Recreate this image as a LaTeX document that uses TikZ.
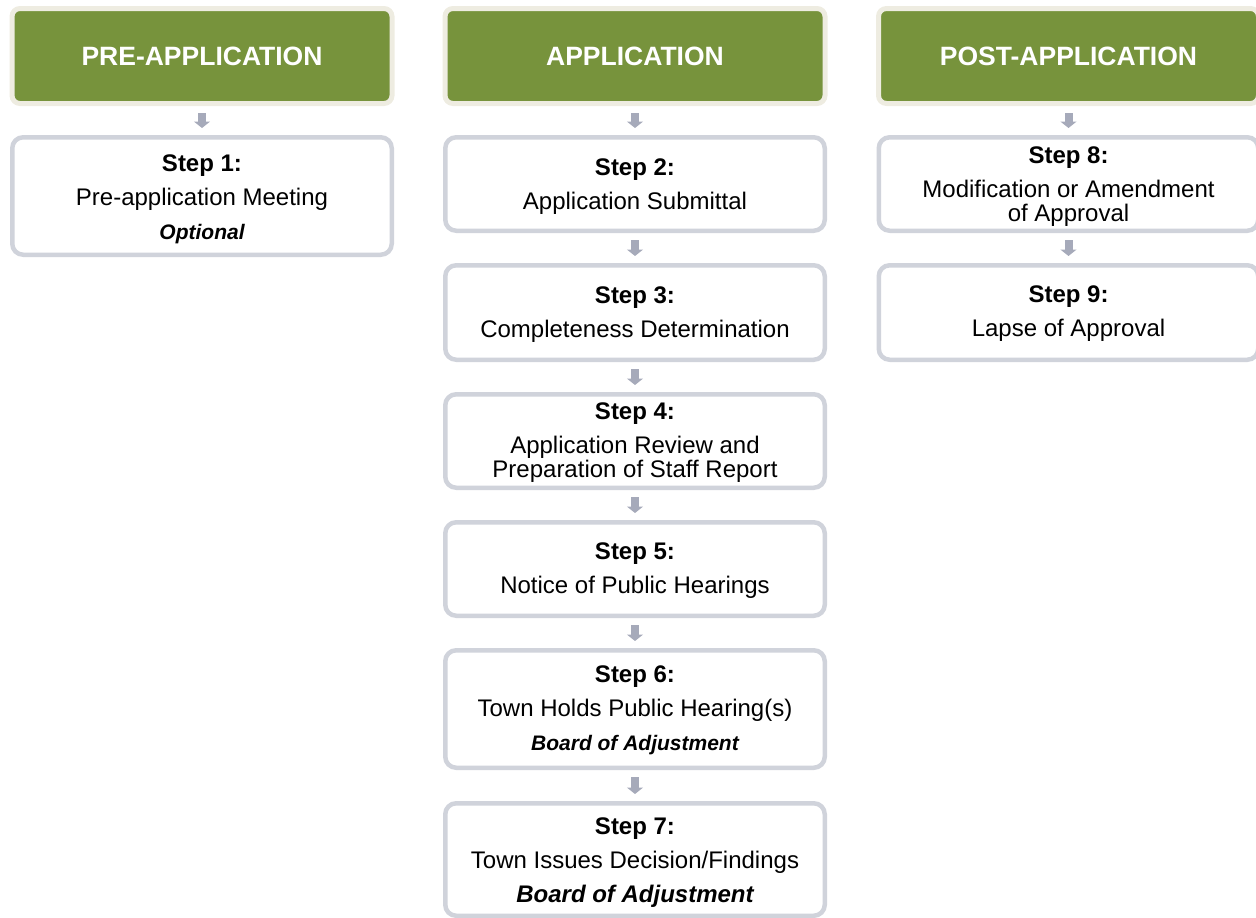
\documentclass[tikz,border=0pt]{standalone}
\usepackage{fontspec}
\setmainfont{Liberation Sans}
\usetikzlibrary{arrows.meta}
\definecolor{hdrgreen}{HTML}{77933C}
\definecolor{hdrcream}{HTML}{EEECE1}
\definecolor{boxgray}{HTML}{D0D3DB}
\definecolor{arrgray}{HTML}{A6AABA}
\newcommand{\note}[1]{{\fontsize{21}{34}\selectfont\bfseries\itshape #1}}
\begin{document}
\begin{tikzpicture}[x=1pt,y=-1pt,
  hdr/.style={fill=hdrgreen, draw=hdrcream, line width=5pt, rounded corners=8pt,
    minimum width=380pt, minimum height=95pt, inner sep=0pt, text=white,
    font=\fontsize{26.5}{30}\selectfont\bfseries},
  stepbox/.style={fill=white, draw=boxgray, line width=4.5pt, rounded corners=11pt,
    minimum width=379.5pt, inner sep=0pt},
  steptext/.style={inner sep=0pt, align=center, font=\fontsize{24}{34}\selectfont},
  flow/.style={draw=arrgray, line width=8pt, -{Triangle[width=16pt,length=6.5pt]},
    shorten <=7pt, shorten >=7pt}]
\useasboundingbox (0,0) rectangle (1256,918);

\node[hdr] (h1) at (202,56) {PRE-APPLICATION};
\node[hdr] (h2) at (635,56) {APPLICATION};
\node[hdr] (h3) at (1068.5,56) {POST-APPLICATION};

\node[stepbox, minimum height=117.5pt] (s1) at (202,196) {};
\node[stepbox, minimum height=93.5pt] (s2) at (635,184) {};
\node[stepbox, minimum height=94.5pt] (s3) at (635,312.5) {};
\node[stepbox, minimum height=93.5pt] (s4) at (635,441) {};
\node[stepbox, minimum height=93.5pt] (s5) at (635,569) {};
\node[stepbox, minimum height=117.5pt] (s6) at (635,709) {};
\node[stepbox, minimum height=112.5pt] (s7) at (635,859.5) {};
\node[stepbox, minimum height=93.5pt] (s8) at (1068.5,184) {};
\node[stepbox, minimum height=94.5pt] (s9) at (1068.5,312.5) {};

\node[steptext] (t1) at ([yshift=-3pt]s1.center)
  {\textbf{Step 1:}\\Pre-application Meeting\\\note{Optional}};
\node[steptext] (t2) at ([yshift=-2.5pt]s2.center)
  {\textbf{Step 2:}\\Application Submittal};
\node[steptext] (t3) at ([yshift=-2pt]s3.center)
  {\textbf{Step 3:}\\Completeness Determination};
\node[steptext] (t4) at ([yshift=-1.5pt]s4.center)
  {\textbf{Step 4:}\\Application Review and\\[-10pt]Preparation of Staff Report};
\node[steptext] (t5) at ([yshift=-2pt]s5.center)
  {\textbf{Step 5:}\\Notice of Public Hearings};
\node[steptext] (t6) at ([yshift=-1pt]s6.center)
  {\textbf{Step 6:}\\Town Holds Public Hearing(s)\\\note{Board of Adjustment}};
\node[steptext] (t7) at ([yshift=-3.5pt]s7.center)
  {\textbf{Step 7:}\\Town Issues Decision/Findings\\{\bfseries\itshape Board of Adjustment}};
\node[steptext] (t8) at ([yshift=-2.5pt]s8.center)
  {\textbf{Step 8:}\\Modification or Amendment\\[-10pt]of Approval};
\node[steptext] (t9) at ([yshift=-1.5pt]s9.center)
  {\textbf{Step 9:}\\Lapse of Approval};

\draw[flow] (h1.south) -- (s1.north);
\draw[flow] (h2.south) -- (s2.north);
\draw[flow] (s2.south) -- (s3.north);
\draw[flow] (s3.south) -- (s4.north);
\draw[flow] (s4.south) -- (s5.north);
\draw[flow] (s5.south) -- (s6.north);
\draw[flow] (s6.south) -- (s7.north);
\draw[flow] (h3.south) -- (s8.north);
\draw[flow] (s8.south) -- (s9.north);
\end{tikzpicture}
\end{document}
